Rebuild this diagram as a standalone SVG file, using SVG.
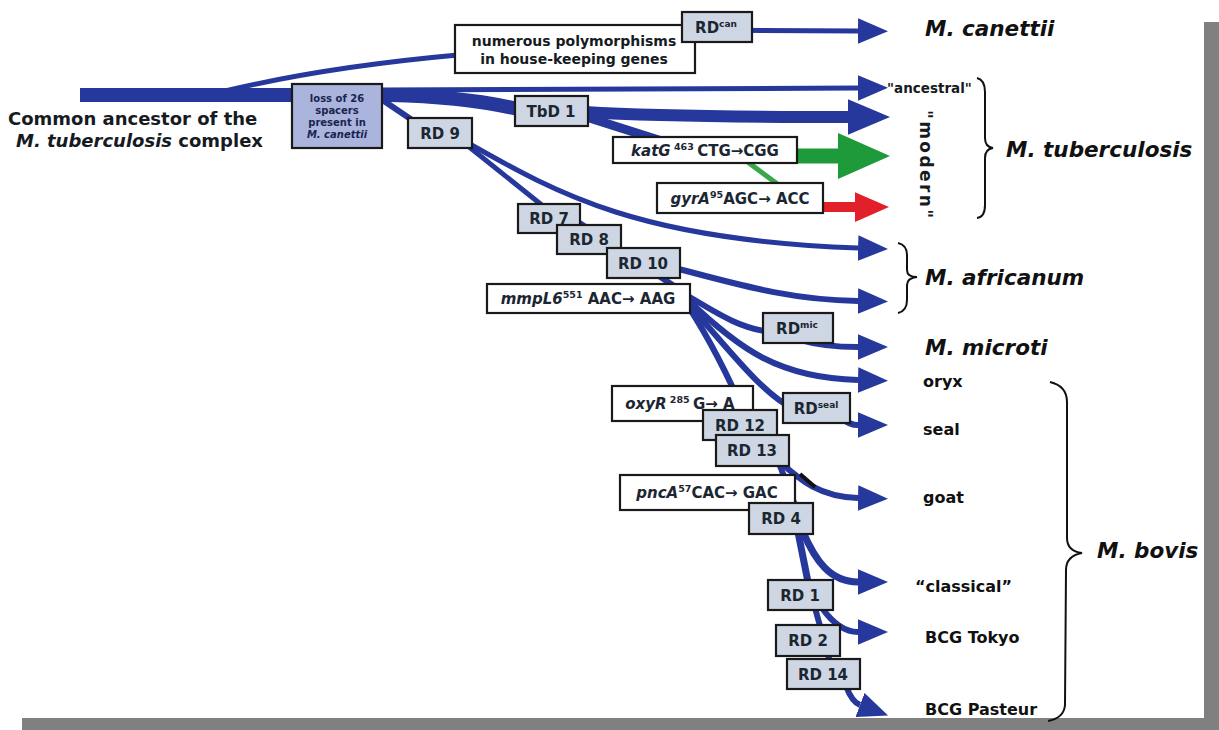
<svg xmlns="http://www.w3.org/2000/svg" width="1219" height="730" viewBox="0 0 1219 730">
<style>
.c{fill:none;stroke:#26389c;stroke-linecap:butt;stroke-linejoin:round}
.rd{fill:#cdd6e2;stroke:#1a1a1a;stroke-width:2.2}
.mb{fill:#ffffff;stroke:#1a1a1a;stroke-width:2.2}
.t{font-family:"DejaVu Sans","Liberation Sans",Arial,sans-serif;font-weight:bold;fill:#161b22}
.lb{font-size:15px;text-anchor:middle;fill:#1b2632}
.sp{font-size:21.5px;font-style:italic;fill:#111}
.st{font-size:16px;fill:#111}
.br{fill:none;stroke:#111;stroke-width:2}
</style>
<defs>
<marker id="ab" markerUnits="userSpaceOnUse" markerWidth="30" markerHeight="26" viewBox="0 0 28 24" refX="0" refY="12" orient="auto"><path d="M0,0 L28,12 L0,24 z" fill="#26389c"/></marker>
<marker id="abig" markerUnits="userSpaceOnUse" markerWidth="42" markerHeight="36" viewBox="0 0 40 34" refX="0" refY="17" orient="auto"><path d="M0,0 L40,17 L0,34 z" fill="#26389c"/></marker>
<marker id="ag" markerUnits="userSpaceOnUse" markerWidth="52" markerHeight="46" viewBox="0 0 50 44" refX="0" refY="22" orient="auto"><path d="M0,0 L50,22 L0,44 z" fill="#1f9a3a"/></marker>
<marker id="ar" markerUnits="userSpaceOnUse" markerWidth="34" markerHeight="30" viewBox="0 0 32 28" refX="0" refY="14" orient="auto"><path d="M0,0 L32,14 L0,28 z" fill="#e2202a"/></marker>
</defs>
<rect x="0" y="0" width="1219" height="730" fill="#ffffff"/>
<g id="frame" fill="#808080">
<rect x="22" y="718" width="1197" height="12"/>
<rect x="1204" y="22" width="15" height="708"/>
</g>
<g id="connectors">
<path class="c" d="M225,91 C300,73 380,62 458,55 L700,30 L858,31" stroke-width="5" marker-end="url(#ab)"/>
<path class="c" d="M380,90 L858,88" stroke-width="5" marker-end="url(#ab)"/>
<path class="c" d="M80,95 L390,95 C440,96 480,100 522,110" stroke-width="14"/>
<path class="c" d="M585,112 C650,116 750,117 848,117" stroke-width="12" marker-end="url(#abig)"/>
<path class="c" d="M378,97 L418,124" stroke-width="6"/>
<path class="c" d="M580,115 L665,142" stroke-width="9"/>
<path d="M793,156 L838,156" fill="none" stroke="#1f9a3a" stroke-width="15" marker-end="url(#ag)"/>
<path d="M745,160 L780,186" fill="none" stroke="#3aa84a" stroke-width="5"/>
<path d="M822,207 L855,207" fill="none" stroke="#e2202a" stroke-width="10" marker-end="url(#ar)"/>
<path class="c" d="M468,143 C560,195 640,240 858,248" stroke-width="5" marker-end="url(#ab)"/>
<path class="c" d="M468,146 L548,210" stroke-width="5"/>
<path class="c" d="M575,220 L605,240 L650,270 L680,290" stroke-width="6"/>
<path class="c" d="M675,268 C740,285 790,300 858,301" stroke-width="6" marker-end="url(#ab)"/>
<path class="c" d="M688,296 C720,315 740,328 770,332" stroke-width="6"/>
<path class="c" d="M800,340 C820,346 840,347 858,347" stroke-width="6" marker-end="url(#ab)"/>
<path class="c" d="M688,300 C740,350 780,378 858,380" stroke-width="6" marker-end="url(#ab)"/>
<path class="c" d="M688,304 C730,350 760,392 795,410" stroke-width="6"/>
<path class="c" d="M840,418 C848,423 852,425 858,425" stroke-width="6" marker-end="url(#ab)"/>
<path class="c" d="M688,306 C710,340 730,380 745,415" stroke-width="6"/>
<path class="c" d="M780,462 C800,480 820,497 858,498" stroke-width="6" marker-end="url(#ab)"/>
<path d="M800,474 L815,487" fill="none" stroke="#111" stroke-width="4"/>
<path class="c" d="M780,466 L795,505" stroke-width="6"/>
<path class="c" d="M803,532 C815,560 830,582 858,582" stroke-width="7" marker-end="url(#ab)"/>
<path class="c" d="M798,532 L808,582" stroke-width="7"/>
<path class="c" d="M822,608 C832,622 845,632 858,632" stroke-width="6" marker-end="url(#ab)"/>
<path class="c" d="M815,608 L835,680" stroke-width="6"/>
<path class="c" d="M846,686 Q852,702 860,705" stroke-width="6" marker-end="url(#ab)"/>
</g>
<g id="ancestor"><text class="t" font-size="18" x="8" y="125">Common ancestor of the</text><text class="t" font-size="18" x="16" y="147"><tspan font-style="italic">M. tuberculosis</tspan> complex</text></g>
<g id="loss26"><rect class="rd" x="292" y="84" width="90" height="64" fill="#aab4dc" style="fill:#aab4dc"/>
<text class="t" font-size="10" text-anchor="middle" fill="#1a2450" style="fill:#1a2450"><tspan x="337" y="102">loss of 26</tspan><tspan x="337" y="114">spacers</tspan><tspan x="337" y="126">present in</tspan><tspan x="337" y="138" font-style="italic">M. canettii</tspan></text></g>
<g id="polymorphisms"><rect class="mb" x="455" y="25" width="240" height="48"/>
<text class="t" font-size="14" text-anchor="middle"><tspan x="574" y="46">numerous polymorphisms</tspan><tspan x="574" y="64">in house-keeping genes</tspan></text></g>
<g id="rdcan"><rect class="rd" x="682" y="12" width="70" height="30"/><text class="t lb" x="716" y="33">RD<tspan font-size="9" dy="-6">can</tspan></text></g>
<g id="tbd1"><rect class="rd" x="515" y="96" width="73" height="30"/><text class="t lb" x="551" y="117">TbD 1</text></g>
<g id="rd9"><rect class="rd" x="408" y="118" width="64" height="30"/><text class="t lb" x="440" y="139">RD 9</text></g>
<g id="katg"><rect class="mb" x="613" y="137" width="184" height="26"/><text class="t lb" x="705" y="156"><tspan font-style="italic">katG</tspan><tspan font-size="9.5" dy="-6"> 463 </tspan><tspan dy="6">CTG→CGG</tspan></text></g>
<g id="gyra"><rect class="mb" x="657" y="183" width="166" height="30"/><text class="t lb" x="740" y="204"><tspan font-style="italic">gyrA</tspan><tspan font-size="9.5" dy="-6">95</tspan><tspan dy="6">AGC→ ACC</tspan></text></g>
<g id="rd7"><rect class="rd" x="518" y="204" width="62" height="29"/><text class="t lb" x="549" y="224">RD 7</text></g>
<g id="rd8"><rect class="rd" x="557" y="225" width="64" height="29"/><text class="t lb" x="589" y="245">RD 8</text></g>
<g id="rd10"><rect class="rd" x="607" y="248" width="73" height="30"/><text class="t lb" x="643" y="269">RD 10</text></g>
<g id="mmpl6"><rect class="mb" x="487" y="284" width="203" height="29"/><text class="t lb" x="588" y="304"><tspan font-style="italic">mmpL6</tspan><tspan font-size="9.5" dy="-6">551</tspan><tspan dy="6"> AAC→ AAG</tspan></text></g>
<g id="rdmic"><rect class="rd" x="763" y="313" width="70" height="30"/><text class="t lb" x="797" y="334">RD<tspan font-size="9" dy="-6">mic</tspan></text></g>
<g id="oxyr"><rect class="mb" x="612" y="386" width="141" height="35"/><text class="t lb" x="680" y="409"><tspan font-style="italic">oxyR</tspan><tspan font-size="9.5" dy="-6"> 285 </tspan><tspan dy="6">G→ A</tspan></text></g>
<g id="rdseal"><rect class="rd" x="783" y="393" width="67" height="30"/><text class="t lb" x="816" y="414">RD<tspan font-size="9" dy="-6">seal</tspan></text></g>
<g id="rd12"><rect class="rd" x="703" y="410" width="74" height="30"/><text class="t lb" x="740" y="431">RD 12</text></g>
<g id="rd13"><rect class="rd" x="716" y="435" width="73" height="31"/><text class="t lb" x="752" y="456">RD 13</text></g>
<g id="pnca"><rect class="mb" x="620" y="475" width="175" height="35"/><text class="t lb" x="707" y="498"><tspan font-style="italic">pncA</tspan><tspan font-size="9.5" dy="-6">57</tspan><tspan dy="6">CAC→ GAC</tspan></text></g>
<g id="rd4"><rect class="rd" x="749" y="503" width="64" height="31"/><text class="t lb" x="781" y="524">RD 4</text></g>
<g id="rd1"><rect class="rd" x="768" y="580" width="65" height="30"/><text class="t lb" x="800" y="601">RD 1</text></g>
<g id="rd2"><rect class="rd" x="776" y="625" width="64" height="31"/><text class="t lb" x="808" y="646">RD 2</text></g>
<g id="rd14"><rect class="rd" x="787" y="659" width="73" height="30"/><text class="t lb" x="823" y="680">RD 14</text></g>
<g id="canettii"><text class="t sp" x="925" y="36">M. canettii</text></g>
<g id="tuberculosis">
<text class="t" font-size="13.5" x="887" y="93">"ancestral"</text>
<text class="t" font-size="17" transform="translate(920,110) rotate(90)" textLength="108" lengthAdjust="spacing">"modern"</text>
<path class="br" d="M977,78 Q985,80 985,92 L985,138 Q985,147 993,148 Q985,149 985,158 L985,205 Q985,217 977,218"/>
<text class="t sp" x="1006" y="157">M. tuberculosis</text>
</g>
<g id="africanum">
<path class="br" d="M898,243 Q907,245 907,255 L907,270 Q907,277 917,277 Q907,278 907,285 L907,300 Q907,311 898,313"/>
<text class="t sp" x="925" y="285">M. africanum</text>
</g>
<g id="microti"><text class="t sp" x="925" y="355">M. microti</text></g>
<g id="bovis">
<text class="t st" x="923" y="387">oryx</text>
<text class="t st" x="923" y="435">seal</text>
<text class="t st" x="923" y="503">goat</text>
<text class="t st" x="915" y="592">“classical”</text>
<text class="t st" x="925" y="643">BCG Tokyo</text>
<text class="t st" x="925" y="715">BCG Pasteur</text>
<path class="br" d="M1050,382 Q1067,386 1067,402 L1067,538 Q1067,551 1082,553 Q1066,556 1066,570 L1065,705 Q1064,718 1048,721"/>
<text class="t sp" x="1097" y="558">M. bovis</text>
</g>
</svg>
